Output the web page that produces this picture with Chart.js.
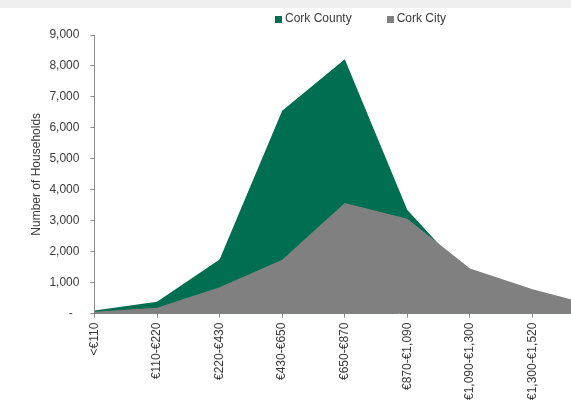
<!DOCTYPE html>
<html>
<head>
<meta charset="utf-8">
<script src="https://cdn.jsdelivr.net/npm/chart.js@4/dist/chart.umd.min.js"></script>
<style>
  html, body { margin: 0; padding: 0; width: 571px; height: 405px; overflow: hidden; background: #ffffff; }
  #band { position: absolute; left: 0; top: 0; width: 571px; height: 8px; background: #efefef; z-index: 0; }
  #wrap { position: absolute; left: 0; top: 0; width: 704px; height: 405px; z-index: 1; }
</style>
</head>
<body>
<div id="band"></div>
<div id="wrap"><canvas id="c" width="704" height="405"></canvas></div>
<script>
// ---- data ----
const categories = ['<€110', '€110-€220', '€220-€430', '€430-€650', '€650-€870',
                    '€870-€1,090', '€1,090-€1,300', '€1,300-€1,520', '€1,520+'];
const corkCounty = [100, 380, 1750, 6550, 8220, 3350, 1150, 450, 150];
const corkCity   = [60, 190, 850, 1740, 3570, 3060, 1460, 790, 250];
const yTicks = [0, 1000, 2000, 3000, 4000, 5000, 6000, 7000, 8000, 9000];
const seriesNames = ['Cork County', 'Cork City'];
const shownCategoryCount = 8;

const GREEN = '#006e50';
const GREY = '#808080';
const TEXT = '#3a3a3a';
const AXIS = '#8a8a8a';

function swatch(color) {
  const c = document.createElement('canvas');
  c.width = 7; c.height = 7;
  const g = c.getContext('2d');
  g.fillStyle = color; g.fillRect(0, 0, 7, 7);
  return c;
}

Chart.defaults.font.family = '"Liberation Sans", Arial, sans-serif';
Chart.defaults.font.size = 12;
Chart.defaults.color = TEXT;

new Chart(document.getElementById('c'), {
  type: 'line',
  data: {
    datasets: [
      {
        label: seriesNames[0],
        data: corkCounty.map((v, i) => ({ x: i, y: v })),
        backgroundColor: GREEN,
        borderColor: GREEN,
        borderWidth: 0,
        fill: 'origin',
        tension: 0,
        pointRadius: 0,
        pointHoverRadius: 0,
        pointStyle: swatch(GREEN),
        order: 1
      },
      {
        label: seriesNames[1],
        data: corkCity.map((v, i) => ({ x: i, y: v })),
        backgroundColor: GREY,
        borderColor: GREY,
        borderWidth: 0,
        fill: 'origin',
        tension: 0,
        pointRadius: 0,
        pointHoverRadius: 0,
        pointStyle: swatch(GREY),
        order: 0
      }
    ]
  },
  options: {
    responsive: false,
    animation: false,
    devicePixelRatio: 1,
    layout: { padding: { left: 20, top: -25, right: 0, bottom: 0 } },
    plugins: {
      tooltip: { enabled: false },
      legend: {
        position: 'top',
        align: 'center',
        labels: {
          usePointStyle: true,
          boxWidth: 1,
          boxHeight: 7,
          padding: 38,
          color: TEXT,
          font: { size: 12 },
          sort: (a, b) => a.datasetIndex - b.datasetIndex
        }
      }
    },
    scales: {
      x: {
        type: 'linear',
        min: 0,
        max: 9.74,
        grid: { display: true, drawOnChartArea: false, drawTicks: true, tickLength: 4, color: AXIS },
        border: { display: true, color: AXIS, width: 1 },
        afterBuildTicks: (scale) => {
          scale.ticks = scale.ticks.filter(t => Number.isInteger(t.value) && t.value >= 0 && t.value < shownCategoryCount);
        },
        ticks: {
          stepSize: 1,
          autoSkip: false,
          maxRotation: 90,
          minRotation: 90,
          padding: 5,
          color: TEXT,
          font: { size: 12 },
          callback: (v) => (Number.isInteger(v) && categories[v] !== undefined) ? categories[v] : ''
        }
      },
      y: {
        min: yTicks[0],
        max: yTicks[yTicks.length - 1],
        afterBuildTicks: (scale) => { scale.ticks = yTicks.map(v => ({ value: v })); },
        grid: { display: true, drawOnChartArea: false, drawTicks: true, tickLength: 4, color: AXIS },
        border: { display: true, color: AXIS, width: 1 },
        title: {
          display: true,
          text: 'Number of Households',
          color: TEXT,
          font: { size: 12 },
          padding: { top: 9, bottom: -5 }
        },
        ticks: {
          padding: 11,
          color: TEXT,
          font: { size: 12 },
          callback: (v) => v === 0 ? '-  ' : v.toLocaleString('en-US')
        }
      }
    }
  }
});
</script>
</body>
</html>
